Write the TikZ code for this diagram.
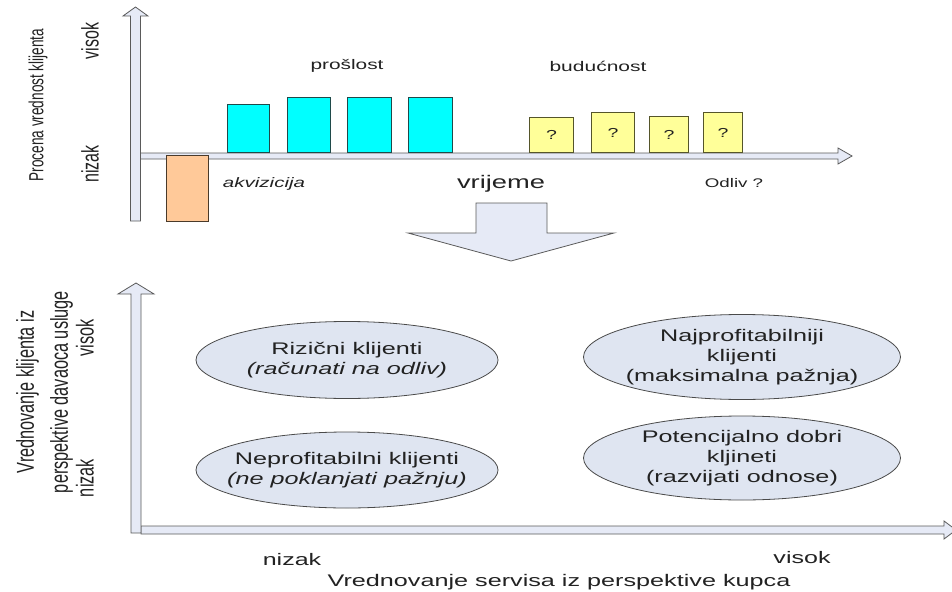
\documentclass[tikz,border=0pt]{standalone}
\usepackage{fontspec}
\usepackage{graphicx}
\setmainfont{Liberation Sans}[FakeStretch=1.5]
\newfontfamily\rotfont{Liberation Sans}
\usetikzlibrary{shapes.geometric}
\definecolor{axfill}{HTML}{E6EAF6}
\definecolor{axline}{HTML}{5A5A5A}
\definecolor{cyanfill}{HTML}{00FFFF}
\definecolor{cyanline}{HTML}{1F4A4A}
\definecolor{yelfill}{HTML}{FFFF99}
\definecolor{yelline}{HTML}{55552A}
\definecolor{orfill}{HTML}{FFC999}
\definecolor{orline}{HTML}{4A3A2A}
\definecolor{ellfill}{HTML}{DFE5F1}
\definecolor{ellline}{HTML}{4A4A4A}
\definecolor{txt}{HTML}{222222}
\newcommand\myfs[2]{\fontsize{#1}{#2}\selectfont}
\begin{document}
\begin{tikzpicture}[x=1pt,y=-1pt,
  axis/.style={draw=axline, fill=axfill, line width=0.8pt, line join=miter},
  bar/.style={line width=0.9pt, anchor=south west, inner sep=0pt, text=txt, font=\myfs{13}{14}},
  cbar/.style={bar, fill=cyanfill, draw=cyanline},
  ybar/.style={bar, fill=yelfill, draw=yelline},
  obar/.style={bar, anchor=north west, fill=orfill, draw=orline},
  lbl/.style={text=txt, inner sep=0pt},
  ell/.style={ellipse, draw=ellline, fill=ellfill, line width=0.8pt, inner sep=0pt},
  elltxt/.style={lbl, align=center, font=\myfs{16.8}{19.7}},
  rot/.style={lbl, rotate=90}
]
\useasboundingbox (0,0) rectangle (952,591);

% ---------- top chart axes ----------
\path[axis] (140.5,153) -- (838,153) -- (838,148) -- (852,156) -- (838,164)
  -- (838,159) -- (140.5,159) -- cycle;
\path[axis] (130.5,221) -- (130.5,16) -- (123,16) -- (135.5,7) -- (148,16)
  -- (140.5,16) -- (140.5,221) -- cycle;

% ---------- bars ----------
\node[obar, minimum width=42pt, minimum height=66pt] (o1) at (166,155) {};
\node[cbar, minimum width=42pt, minimum height=48pt] (c1) at (227,153) {};
\node[cbar, minimum width=43pt, minimum height=55pt] (c2) at (287,153) {};
\node[cbar, minimum width=44pt, minimum height=55pt] (c3) at (347,153) {};
\node[cbar, minimum width=44pt, minimum height=55pt] (c4) at (408,153) {};
\node[ybar, minimum width=44pt, minimum height=35pt] (y1) at (529,153) {?};
\node[ybar, minimum width=43pt, minimum height=40pt] (y2) at (591,153) {?};
\node[ybar, minimum width=39pt, minimum height=36pt] (y3) at (649,153) {?};
\node[ybar, minimum width=39pt, minimum height=40pt] (y4) at (703,153) {?};

% ---------- top labels ----------
\node[lbl, font=\myfs{13.9}{16}] (past) at (347,66) {prošlost};
\node[lbl, font=\myfs{14}{16}] (fut) at (598,66) {budućnost};
\node[lbl, font=\myfs{13.7}{16}\itshape] (akv) at (264,184) {akvizicija};
\node[lbl, font=\myfs{18.2}{20}] (time) at (501,184) {vrijeme};
\node[lbl, font=\myfs{12.5}{14}] (odliv) at (734,183) {Odliv ?};
\node[rot] (ylab1) at (38,105) {\scalebox{1}[1.5]{\rotfont\myfs{13.6}{16}Procena vrednost klijenta}};
\node[rot] (vis1) at (90,41) {\scalebox{1}[1.5]{\rotfont\myfs{16}{18}visok}};
\node[rot] (niz1) at (90,164) {\scalebox{1}[1.5]{\rotfont\myfs{16}{18}nizak}};

% ---------- big down arrow ----------
\path[draw=axline, fill=axfill, line width=0.8pt] (476,203) -- (547,203) -- (547,233)
  -- (614,233) -- (511,261) -- (408,233) -- (476,233) -- cycle;

% ---------- bottom chart axes ----------
\path[axis] (141,526) -- (944,526) -- (944,521) -- (956,530) -- (944,539)
  -- (944,534) -- (141,534) -- cycle;
\path[axis] (131,533) -- (131,294) -- (118,294) -- (136,283) -- (154,294)
  -- (141,294) -- (141,533) -- cycle;

% ---------- ellipses ----------
\node[ell, minimum width=302pt, minimum height=77pt] (e1) at (347,360) {};
\node[elltxt] (t1) at (e1.center) {Rizični klijenti\\\textit{(računati na odliv)}};
\node[ell, minimum width=302pt, minimum height=76pt] (e2) at (347,470) {};
\node[elltxt] (t2) at (e2.center) {Neprofitabilni klijenti\\\textit{(ne poklanjati pažnju)}};
\node[ell, minimum width=317pt, minimum height=85pt] (e3) at (742,357) {};
\node[elltxt] (t3) at (e3.center) {Najprofitabilniji\\klijenti\\(maksimalna pažnja)};
\node[ell, minimum width=317pt, minimum height=84pt] (e4) at (742,458) {};
\node[elltxt] (t4) at (e4.center) {Potencijalno dobri\\kljineti\\(razvijati odnose)};

% ---------- bottom labels ----------
\node[lbl, font=\myfs{16.7}{19}] (niz2) at (292,560) {nizak};
\node[lbl, font=\myfs{16.7}{19}] (vis2) at (802,558) {visok};
\node[lbl, font=\myfs{16.8}{19}] (xlab) at (559,582) {Vrednovanje servisa iz perspektive kupca};
\node[rot] (ylab2) at (44,392) {\scalebox{1}[1.5]{\rotfont\myfs{16.3}{22.7}%
  \begin{tabular}{@{}c@{}}Vrednovanje klijenta iz\\perspektive davaoca usluge\end{tabular}}};
\node[rot] (vis3) at (85,338) {\scalebox{1}[1.5]{\rotfont\myfs{16.3}{18}visok}};
\node[rot] (niz3) at (85,478) {\scalebox{1}[1.5]{\rotfont\myfs{16.3}{18}nizak}};
\end{tikzpicture}
\end{document}
